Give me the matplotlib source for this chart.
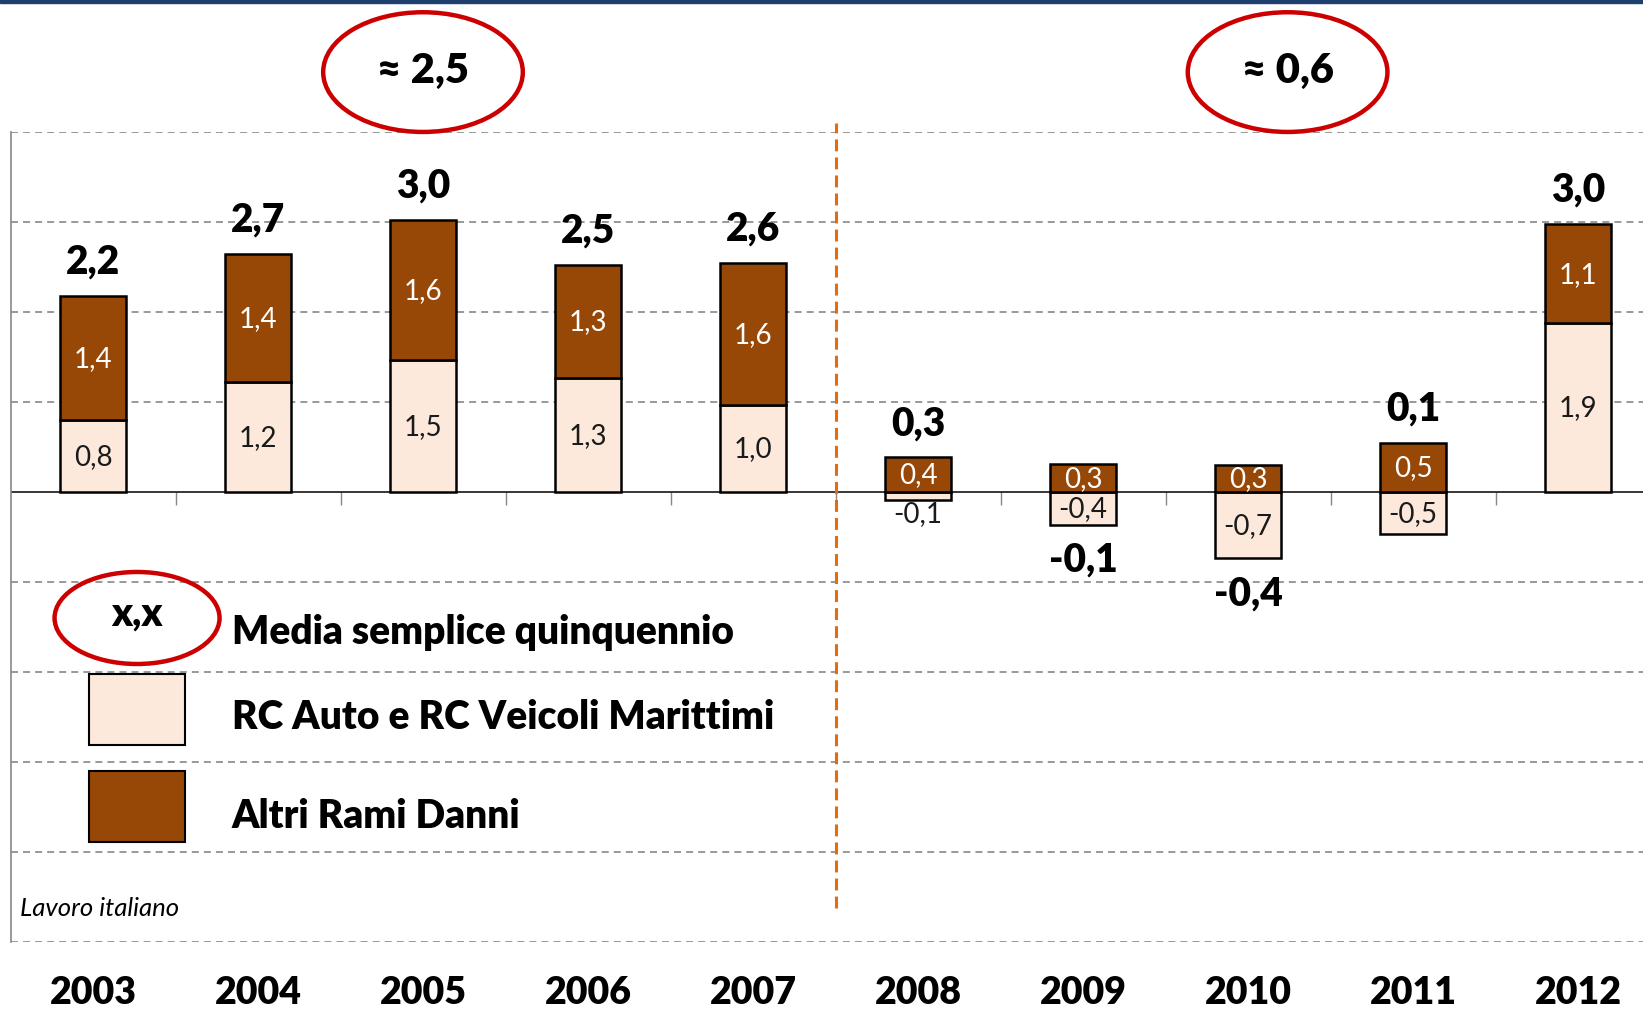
import matplotlib
matplotlib.use("Agg")
import matplotlib.pyplot as plt
import matplotlib.patches as mpatches
from matplotlib.transforms import blended_transform_factory

plt.rcParams['font.family'] = ['Lato', 'DejaVu Sans']

# Data (contributions by year)
years = ['2003', '2004', '2005', '2006', '2007', '2008', '2009', '2010', '2011', '2012']
rc_auto = [0.79, 1.22, 1.46, 1.26, 0.96, -0.09, -0.37, -0.74, -0.47, 1.87]
altri = [1.38, 1.42, 1.56, 1.26, 1.58, 0.38, 0.31, 0.30, 0.54, 1.10]
totals = [2.2, 2.7, 3.0, 2.5, 2.6, 0.3, -0.1, -0.4, 0.1, 3.0]
period_means = ['≈ 2,5', '≈ 0,6']
period_x = [2.0, 7.24]

COL_RC = '#FCE9DB'
COL_ALTRI = '#974706'
RED = '#CC0000'
ORANGE = '#E46C0A'


def fmt(v):
    return f'{v:.1f}'.replace('.', ',')


fig = plt.figure(figsize=(16.43, 10.12), dpi=100)
ax = fig.add_axes([10.5 / 1643, 1 - 942.5 / 1012, 1650 / 1643, 810 / 1012])

x = list(range(len(years)))
alt_bottom = [max(r, 0) for r in rc_auto]

ax.bar(x, rc_auto, width=0.4, color=COL_RC, edgecolor='black', linewidth=1.8, zorder=3)
ax.bar(x, altri, width=0.4, bottom=alt_bottom, color=COL_ALTRI, edgecolor='black',
       linewidth=1.8, zorder=3)

# segment labels
for i in x:
    r = rc_auto[i]
    if abs(r) < 0.2:
        ax.annotate(fmt(r), (i, r), xytext=(0, -10), textcoords='offset points',
                    ha='center', va='center', fontsize=20, color='#1a1a1a', zorder=4)
    else:
        ax.text(i, r / 2, fmt(r), ha='center', va='center', fontsize=20,
                color='#1a1a1a', zorder=4)
    ax.text(i, alt_bottom[i] + altri[i] / 2, fmt(altri[i]), ha='center', va='center',
            fontsize=20, color='white', zorder=4)

    # totals
    t = totals[i]
    if t >= 0:
        ax.annotate(fmt(t), (i, alt_bottom[i] + altri[i]), xytext=(0, 25),
                    textcoords='offset points', ha='center', va='center',
                    fontsize=28, fontweight='heavy', zorder=4)
    else:
        ax.annotate(fmt(t), (i, min(r, 0)), xytext=(0, -25),
                    textcoords='offset points', ha='center', va='center',
                    fontsize=28, fontweight='heavy', zorder=4)

# axes styling
ax.set_xlim(-0.5, len(years) - 0.5)
ax.set_ylim(-5, 4)
for yv in range(-5, 5):
    if yv == 0:
        continue
    ax.axhline(yv, color='#999999', lw=1.4, linestyle=(0, (3.6, 2.6)), zorder=1)
ax.axhline(0, color='black', lw=1.1, zorder=2)

ax.spines['top'].set_visible(False)
ax.spines['right'].set_visible(False)
ax.spines['left'].set_color('#888888')
ax.spines['left'].set_linewidth(1.2)
ax.spines['bottom'].set_position(('data', 0))
ax.spines['bottom'].set_visible(False)
ax.set_yticks([])
ax.set_xticks([i + 0.5 for i in x[:-1]])
ax.tick_params(axis='x', direction='out', length=9, width=1, color='#888888',
               labelbottom=False)

# year labels at the bottom
trans = blended_transform_factory(ax.transData, ax.transAxes)
for i, yr in enumerate(years):
    ax.text(i, -0.062, yr, transform=trans, ha='center', va='center',
            fontsize=27, fontweight='heavy', clip_on=False)

# period separator
ax.plot([4.5, 4.5], [-4.63, 4.09], color=ORANGE, lw=2.2, linestyle=(0, (3.9, 2.0)),
        zorder=2, clip_on=False)

# period averages in red ovals
for px, lab in zip(period_x, period_means):
    ax.add_patch(mpatches.Ellipse((px, 4.66), 1.21, 1.33, fill=False, edgecolor=RED,
                                  lw=3.2, clip_on=False, zorder=5))
    ax.text(px, 4.68, lab, ha='center', va='center', fontsize=30, fontweight='heavy',
            clip_on=False)

# custom legend
ax.add_patch(mpatches.Ellipse((0.0767, 0.3994), 0.1, 0.1136, transform=ax.transAxes,
                              fill=False, edgecolor=RED, lw=3.2, zorder=5))
ax.text(0.0767, 0.405, 'x,x', transform=ax.transAxes, ha='center', va='center',
        fontsize=28, fontweight='heavy')
ax.add_patch(mpatches.Rectangle((0.0476, 0.2426), 0.0582, 0.0877, transform=ax.transAxes,
                                facecolor=COL_RC, edgecolor='black', lw=1.5, zorder=5))
ax.add_patch(mpatches.Rectangle((0.0476, 0.1228), 0.0582, 0.0877, transform=ax.transAxes,
                                facecolor=COL_ALTRI, edgecolor='black', lw=1.5, zorder=5))
legend_labels = ['Media semplice quinquennio', 'RC Auto e RC Veicoli Marittimi',
                 'Altri Rami Danni']
for ty, lab in zip([0.3833, 0.2772, 0.155], legend_labels):
    ax.text(0.1342, ty, lab, transform=ax.transAxes, ha='left', va='center',
            fontsize=28, fontweight='heavy')

ax.text(0.0058, 0.0414, 'Lavoro italiano', transform=ax.transAxes, ha='left',
        va='center', fontsize=18.5, style='italic')

# thin blue band at the top edge
fig.patches.append(mpatches.Rectangle((0, 1 - 4 / 1012), 1, 4 / 1012,
                                      transform=fig.transFigure, color='#1F3F6F'))

fig.savefig('out.png', dpi=100, facecolor='white')
